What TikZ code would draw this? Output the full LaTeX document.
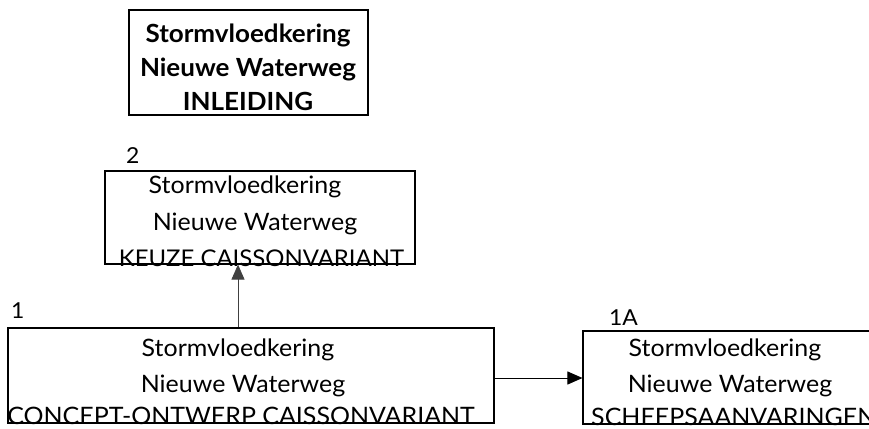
\documentclass[tikz,border=0pt]{standalone}
\usepackage{fontspec}
\setmainfont{Lato}[FakeStretch=1.04]
\usetikzlibrary{arrows.meta}

\tikzset{
  kader/.style={draw, line width=1.1pt, inner sep=0pt},
  regel/.style={anchor=base, inner sep=0pt, font=\fontsize{24}{24}\selectfont},
  kop/.style={anchor=base, inner sep=0pt, font=\fontsize{25}{25}\selectfont\bfseries},
  nummer/.style={anchor=base west, inner sep=0pt, font=\fontsize{22}{22}\selectfont},
  pijl/.style={-{Triangle[length=15pt,width=13pt]}, line width=0.9pt}
}

\begin{document}
\begin{tikzpicture}[x=1pt, y=-1pt]
    \useasboundingbox (0,0) rectangle (869,428);
    \clip (0,0) rectangle (869,428);
    % Inleiding
    \node[kader, minimum width=239pt, minimum height=105pt] (inleiding) at (248.5,62.5) {};
    \node[kop] (inl1) at (248,42) {Stormvloedkering};
    \node[kop] (inl2) at (248,76) {Nieuwe Waterweg};
    \node[kop] (inl3) at (248,110) {INLEIDING};
    % 2: keuze caissonvariant
    \node[kader, minimum width=310pt, minimum height=93pt] (keuze) at (260,217.5) {};
    \node[nummer] (nr2) at (126,163) {2};
    \node[regel] (keu1) at (245,193) {Stormvloedkering};
    \node[regel] (keu2) at (255,230) {Nieuwe Waterweg};
    \node[regel, font=\fontsize{23}{23}\selectfont] (keu3) at (261.5,266) {KEUZE CAISSONVARIANT};
    % 1: concept-ontwerp
    \node[kader, minimum width=486pt, minimum height=95pt] (concept) at (251,375.5) {};
    \node[nummer] (nr1) at (11,318) {1};
    \node[regel] (con1) at (238,356) {Stormvloedkering};
    \node[regel] (con2) at (243,392) {Nieuwe Waterweg};
    \node[regel] (con3) at (241,424) {CONCEPT-ONTWERP CAISSONVARIANT};
    % 1A: scheepsaanvaringen
    \node[kader, minimum width=320pt, minimum height=93pt] (aanvar) at (743,377.5) {};
    \node[nummer] (nr1a) at (609,325) {1A};
    \node[regel] (aan1) at (725,356) {Stormvloedkering};
    \node[regel] (aan2) at (730,392) {Nieuwe Waterweg};
    \node[regel, anchor=base west] (aan3) at (591,425) {SCHEEPSAANVARINGEN};
    % pijlen
    \coordinate (pijlx) at (238,0);
    \coordinate (pijly) at (0,378);
    \draw[pijl, black!75, line width=0.7pt] (concept.north -| pijlx) -- (keuze.south -| pijlx);
    \draw[pijl] (concept.east |- pijly) -- (aanvar.west |- pijly);
\end{tikzpicture}
\end{document}
